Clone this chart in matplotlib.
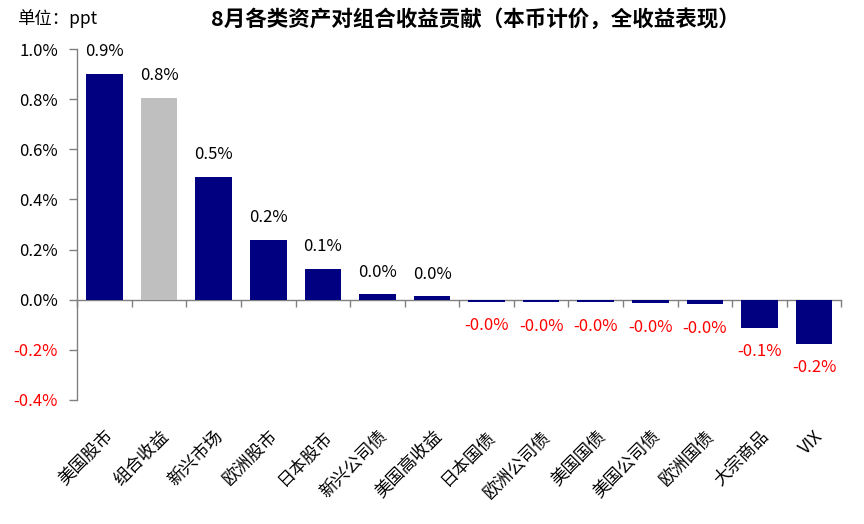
import matplotlib
matplotlib.use("Agg")
import matplotlib.pyplot as plt
from matplotlib.transforms import blended_transform_factory
import numpy as np

plt.rcParams['font.family'] = ['Noto Sans CJK SC', 'DejaVu Sans']

categories = ["美国股市", "组合收益", "新兴市场", "欧洲股市", "日本股市", "新兴公司债", "美国高收益",
              "日本国债", "欧洲公司债", "美国国债", "美国公司债", "欧洲国债", "大宗商品", "VIX"]
values = [0.902, 0.806, 0.49, 0.238, 0.123, 0.021, 0.013,
          -0.008, -0.011, -0.011, -0.015, -0.019, -0.111, -0.175]
highlight = "组合收益"
yticks = [-0.4, -0.2, 0.0, 0.2, 0.4, 0.6, 0.8, 1.0]
title = "8月各类资产对组合收益贡献（本币计价，全收益表现）"
unit = "单位：ppt"

NAVY = "#000080"
GRAY = "#BFBFBF"
AX = "#808080"

fig = plt.figure(figsize=(8.64, 5.24), dpi=100)
ax = fig.add_axes([77.3/864, 1-400/524, (841.3-77.3)/864, (400-49)/524])

n = len(categories)
x = np.arange(n)
colors = [GRAY if c == highlight else NAVY for c in categories]
ax.bar(x, values, width=0.67, color=colors, zorder=3)

ax.set_xlim(-0.5, n - 0.5)
ax.set_ylim(-0.4, 1.0)

for s in ["top", "right"]:
    ax.spines[s].set_visible(False)
ax.spines["bottom"].set_position(("data", 0))
ax.spines["bottom"].set_color(AX)
ax.spines["left"].set_color(AX)
ax.spines["bottom"].set_linewidth(1.0)
ax.spines["left"].set_linewidth(1.0)

ax.set_xticks(np.arange(n + 1) - 0.5)
ax.set_xticklabels([])
ax.tick_params(axis="x", direction="out", length=5, color=AX, width=1.0)

ax.set_yticks(yticks)
ax.set_yticklabels([f"{t:.1f}%" for t in yticks], fontsize=12)
ax.tick_params(axis="y", direction="out", length=6, color=AX, width=1.0, pad=8)
for lbl, t in zip(ax.get_yticklabels(), yticks):
    lbl.set_color("#FF0000" if t < 0 else "black")

# data labels
for xi, v in zip(x, values):
    txt = f"{v:.1f}%"
    if v >= 0:
        ax.annotate(txt, (xi, v), xytext=(0, 16), textcoords="offset points",
                    ha="center", va="center", fontsize=12, color="black")
    else:
        ax.annotate(txt, (xi, v), xytext=(0, -17), textcoords="offset points",
                    ha="center", va="center", fontsize=12, color="#FF0000")

# category labels
tr = blended_transform_factory(ax.transData, ax.transAxes)
for xi, c in zip(x, categories):
    ax.text(xi + 0.12, -0.095, c, transform=tr, rotation=45, rotation_mode="anchor",
            ha="right", va="center", fontsize=12.5, color="black")

fig.text(475/864, 1-19/524, title, ha="center", va="center", fontsize=15.5, fontweight="bold")
fig.text(17/864, 1-19/524, unit, ha="left", va="center", fontsize=12.5)

fig.savefig("out.png", dpi=100)
